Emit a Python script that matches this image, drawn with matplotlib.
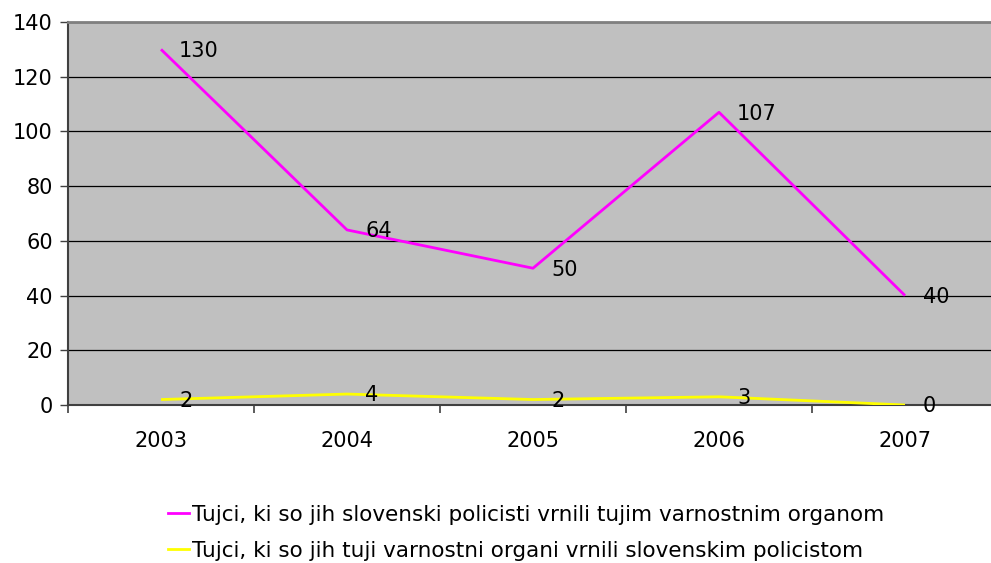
import matplotlib
matplotlib.use("Agg")
import matplotlib.pyplot as plt
from matplotlib.lines import Line2D

years = ["2003", "2004", "2005", "2006", "2007"]
returned_by_slovenia = [130, 64, 50, 107, 40]
returned_to_slovenia = [2, 4, 2, 3, 0]
series_names = [
    "Tujci, ki so jih slovenski policisti vrnili tujim varnostnim organom",
    "Tujci, ki so jih tuji varnostni organi vrnili slovenskim policistom",
]

plt.rcParams['font.family'] = ['DejaVu Sans']
W, H = 991, 563
fig = plt.figure(figsize=(W / 100, H / 100), dpi=100)
l, r, t, b = 68, 998, 22, 405
ax = fig.add_axes([l / W, 1 - b / H, (r - l) / W, (b - t) / H])
ax.set_facecolor("#C0C0C0")

x = list(range(len(years)))
ax.plot(x, returned_by_slovenia, color="#FF00FF", lw=2, solid_capstyle="butt", zorder=3)
ax.plot(x, returned_to_slovenia, color="#FFFF00", lw=2, solid_capstyle="butt", zorder=3)

fs = 15
for xi, v in zip(x, returned_by_slovenia):
    ax.annotate(str(v), (xi, v), xytext=(13, -1), textcoords="offset points",
                ha="left", va="center", fontsize=fs, color="black", zorder=4)
for xi, v in zip(x, returned_to_slovenia):
    ax.annotate(str(v), (xi, v), xytext=(13, -1), textcoords="offset points",
                ha="left", va="center", fontsize=fs, color="black", zorder=4)

ax.set_xlim(-0.5, 4.5)
ax.set_ylim(0, 140)
ax.set_yticks(range(0, 141, 20))
ax.yaxis.grid(True, color="black", lw=0.9)
ax.set_axisbelow(True)
ax.set_xticks(x)
ax.set_xticklabels(years, fontsize=fs)
ax.set_xticks([i + 0.5 for i in range(-1, 5)], minor=True)
ax.tick_params(axis="x", which="major", length=0, pad=19)
ax.tick_params(axis="x", which="minor", length=6, width=1.2, color="#404040", direction="out")
ax.tick_params(axis="y", length=6, width=1, color="#404040", labelsize=fs, pad=5)

for s in ["left", "bottom"]:
    ax.spines[s].set_color("#404040")
    ax.spines[s].set_linewidth(1.5)
ax.spines["top"].set_color("#808080")
ax.spines["top"].set_linewidth(2)
ax.spines["right"].set_visible(False)

handles = [Line2D([], [], color="#FF00FF", lw=2), Line2D([], [], color="#FFFF00", lw=2)]
fig.legend(handles, series_names, loc="upper left", bbox_to_anchor=(159 / W, 1 - 496 / H),
           frameon=False, fontsize=15.5, handlelength=1.0, handletextpad=0.12,
           labelspacing=0.75, borderaxespad=0)

fig.savefig("out.png", dpi=100)
